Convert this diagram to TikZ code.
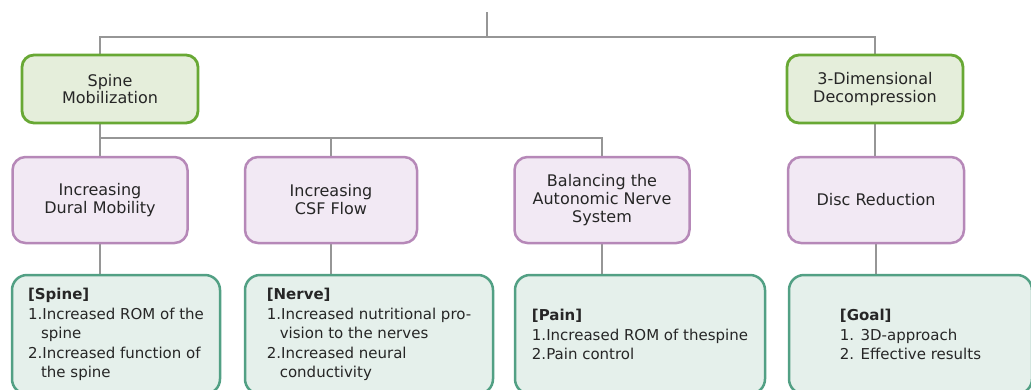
\documentclass[tikz,border=0pt]{standalone}
\usepackage{fontspec}
\setmainfont{DejaVu Sans}
\usetikzlibrary{backgrounds}
\definecolor{linegray}{RGB}{150,150,150}
\definecolor{topgreen}{RGB}{104,168,52}
\definecolor{topfill}{RGB}{229,238,219}
\definecolor{midpurple}{RGB}{182,136,184}
\definecolor{midfill}{RGB}{242,233,244}
\definecolor{lowteal}{RGB}{82,160,132}
\definecolor{lowfill}{RGB}{229,240,235}
\definecolor{inkgray}{RGB}{38,38,38}

\begin{document}
\begin{tikzpicture}[x=1pt, y=-1pt,
	link/.style={draw=linegray, line width=1.8pt},
	topbox/.style={draw=topgreen, fill=topfill, line width=2.8pt, rounded corners=12pt,
		minimum width=176pt, minimum height=68pt, align=center, text=inkgray,
		font=\fontsize{16}{17.5}\selectfont},
	midbox/.style={draw=midpurple, fill=midfill, line width=2.5pt, rounded corners=13pt,
		minimum width=175pt, minimum height=86pt, align=center, text=inkgray,
		font=\fontsize{16}{18}\selectfont},
	lowbox/.style={draw=lowteal, fill=lowfill, line width=2.5pt, rounded corners=15pt,
		minimum height=119pt, align=left, text=inkgray,
		font=\fontsize{15}{19.5}\selectfont}]
	\clip (0,0) rectangle (1031,389);
	
	\node (smob) at (110, 89) [topbox]{Spine\\Mobilization};
	\node (dec) at (875, 89) [topbox]{3-Dimensional\\Decompression};
	
	\node (dural) at (100, 200) [midbox]{Increasing\\Dural Mobility};
	\node (csf) at (331, 200) [midbox, minimum width=172pt]{Increasing\\CSF Flow};
	\node (ans) at (602, 200) [midbox]{Balancing the\\Autonomic Nerve\\System};
	\node (disc) at (876, 200) [midbox, minimum width=176pt]{Disc Reduction};
	
	\node (spine) at (116, 334.5) [lowbox, minimum width=208pt]{\textbf{[Spine]}\\1.Increased ROM of the\\\hspace*{13pt}spine\\2.Increased function of\\\hspace*{13pt}the spine};
	\node (nerve) at (369, 334.5) [lowbox, minimum width=248pt]{\textbf{[Nerve]}\\1.Increased nutritional pro-\\\hspace*{13pt}vision to the nerves\\2.Increased neural\\\hspace*{13pt}conductivity};
	\node (pain) at (640, 334.5) [lowbox, minimum width=250pt]{\textbf{[Pain]}\\1.Increased ROM of thespine\\2.Pain control};
	\node (goal) at (910.5, 334.5) [lowbox, minimum width=243pt]{\textbf{[Goal]}\\1. 3D-approach\\2. Effective results};
	
	\coordinate (root) at (487, 12);
	\coordinate (bus) at (487, 37);
	\coordinate (fork) at (100, 138);
	
	\begin{scope}[on background layer]
		\draw[link] (root) -- (bus);
		\draw[link] (smob.north -| dural) |- (bus) -| (dec.north);
		\draw[link] (smob.south -| dural) -- (dural.north);
		\draw[link] (fork) -| (ans.north);
		\draw[link] (fork -| csf) -- (csf.north);
		\draw[link] (dec.south) -- (dec.south |- disc.north);
		\foreach \a/\b in {dural/spine, csf/nerve, ans/pain, disc/goal}{
			\draw[link] (\a.south) -- (\a.south |- \b.north);
		}
	\end{scope}
\end{tikzpicture}
\end{document}
